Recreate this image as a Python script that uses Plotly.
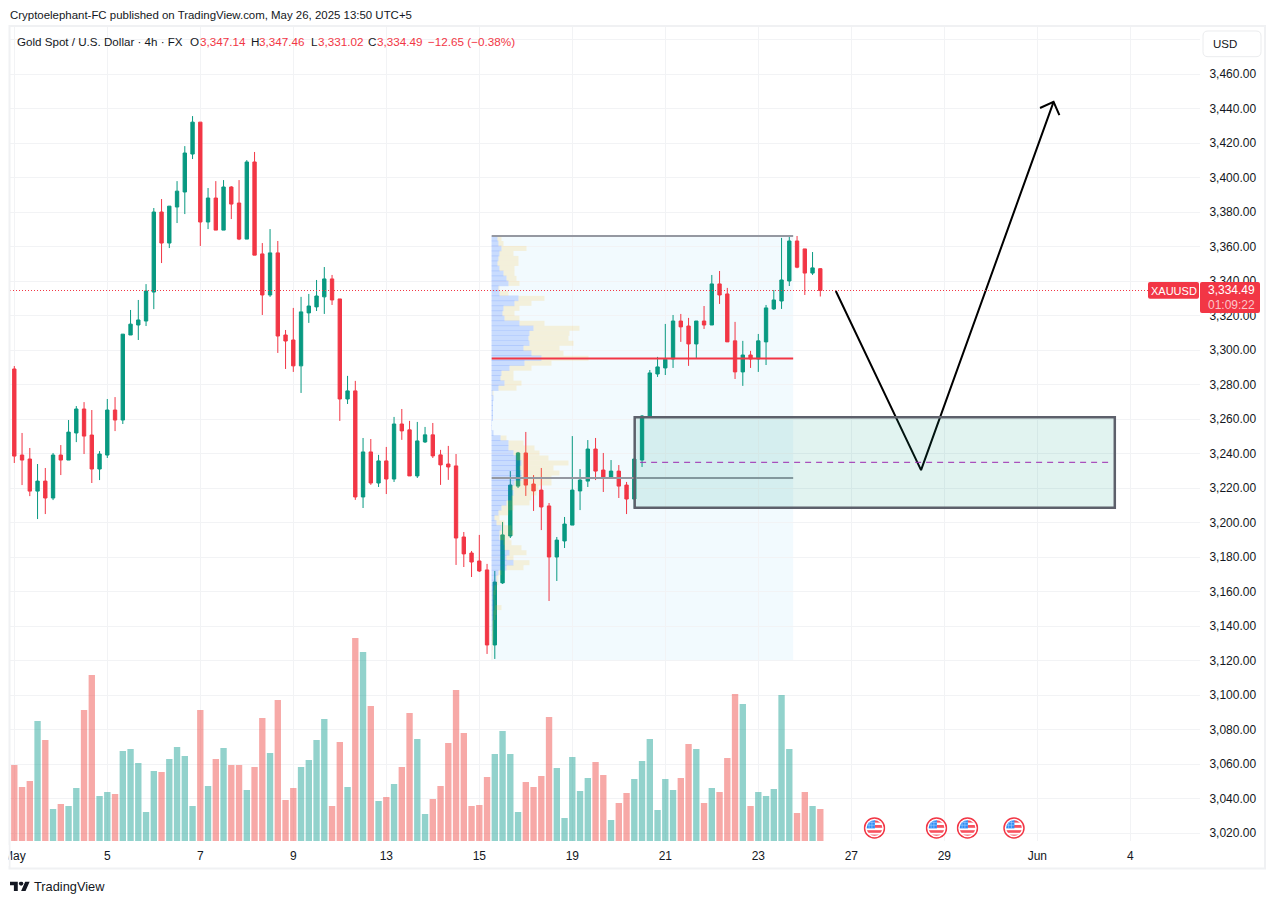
import base64
import plotly.graph_objects as go

W, H = 1275, 904
UP, DOWN = "#089981", "#F23645"
INK = "#131722"
FONT = "Liberation Sans"

highs = [3290.7,3251.9,3243.2,3233.9,3231.6,3240.3,3244.9,3259.4,3267.5,3269.8,3265.2,3241.4,3271.6,3272.7,3309.2,
 3323.2,3329.0,3338.2,3382.3,3387.5,3383.4,3397.9,3418.2,3435.6,3432.1,3393.9,3397.9,3398.5,3395.0,3398.5,
 3410.1,3414.8,3362.0,3370.1,3363.2,3311.6,3324.4,3330.8,3332.5,3340.6,3348.1,3343.5,3329.6,3285.0,3282.1,
 3249.0,3248.4,3239.2,3243.8,3261.2,3265.8,3258.9,3258.3,3255.4,3257.7,3242.1,3244.4,3239.7,3194.5,3183.5,
 3192.8,3176.0,3171.9,3200.3,3229.8,3240.9,3252.5,3227.5,3231.6,3211.3,3191.6,3203.2,3250.1,3231.0,3247.8,
 3249.0,3240.3,3236.2,3233.3,3223.5,3236.8,3262.3,3288.4,3296.0,3315.1,3320.3,3320.9,3318.6,3316.8,3325.5,
 3343.5,3345.8,3336.0,3316.3,3305.3,3299.5,3309.3,3326.1,3334.8,3365.0,3365.5,3366.1,3358.6,3356.8,3347.46]
opens = [3289.0,3239.1,3236.8,3218.2,3224.0,3214.2,3239.1,3236.2,3251.9,3265.8,3250.7,3231.0,3239.1,3265.2,3259.4,
 3308.7,3314.5,3316.8,3333.6,3380.0,3362.0,3382.9,3391.6,3413.6,3432.1,3374.2,3388.1,3369.5,3394.5,3385.2,
 3364.3,3409.0,3355.7,3331.9,3356.3,3308.7,3305.8,3290.8,3321.5,3325.0,3330.8,3341.2,3329.6,3271.6,3276.3,
 3214.8,3240.9,3222.9,3235.7,3225.2,3257.1,3253.7,3227.0,3246.7,3250.8,3239.2,3233.9,3232.8,3191.6,3182.3,
 3177.7,3172.5,3129.0,3165.0,3192.2,3221.1,3240.3,3222.3,3218.8,3209.6,3180.0,3189.3,3198.5,3218.3,3224.0,
 3242.6,3230.4,3226.4,3229.8,3221.7,3213.6,3236.2,3261.2,3286.1,3289.6,3294.8,3316.8,3313.9,3303.5,3316.8,
 3314.5,3338.3,3332.5,3305.3,3287.3,3297.1,3294.8,3304.7,3323.8,3328.4,3340.0,3363.2,3358.6,3344.6,3347.14]
closes = [3238.5,3236.2,3218.2,3224.0,3214.2,3239.1,3236.2,3252.4,3265.8,3250.1,3231.0,3239.7,3265.2,3259.4,3309.2,
 3315.0,3317.4,3334.2,3380.0,3362.0,3383.4,3392.1,3414.2,3432.1,3374.2,3388.1,3369.5,3394.5,3384.6,3364.3,
 3409.0,3355.0,3331.9,3356.3,3308.1,3305.2,3290.8,3322.1,3325.5,3331.3,3341.2,3329.0,3271.6,3276.3,3214.8,
 3240.9,3222.9,3235.7,3225.2,3257.1,3253.1,3227.0,3247.3,3250.8,3238.6,3233.4,3232.2,3191.0,3181.8,3177.1,
 3171.9,3129.0,3165.5,3192.8,3221.7,3240.3,3221.7,3218.3,3209.0,3180.0,3189.8,3199.1,3218.8,3224.6,3242.6,
 3229.8,3226.4,3229.8,3221.1,3213.6,3236.8,3261.7,3286.7,3290.2,3294.6,3316.8,3313.4,3303.5,3316.8,3314.5,
 3338.3,3331.9,3304.7,3287.3,3297.1,3294.8,3305.3,3324.4,3329.0,3340.6,3363.2,3348.0,3344.6,3347.6,3334.49]
lows = [3234.5,3221.7,3215.3,3202.0,3204.9,3213.0,3227.5,3236.2,3246.6,3239.7,3222.9,3224.6,3237.4,3253.0,3257.1,
 3308.7,3305.8,3313.9,3323.7,3350.4,3359.1,3373.6,3378.8,3410.7,3360.3,3370.1,3369.5,3369.5,3375.9,3363.7,
 3364.3,3355.0,3320.3,3330.8,3298.3,3289.0,3287.3,3275.1,3315.7,3322.6,3320.9,3326.1,3258.9,3268.7,3213.1,
 3208.4,3221.8,3220.6,3216.5,3223.5,3247.9,3227.0,3225.8,3246.1,3237.4,3221.8,3224.7,3175.4,3174.2,3168.4,
 3171.3,3123.8,3120.9,3164.4,3191.0,3220.0,3215.4,3206.7,3195.6,3154.5,3166.1,3185.2,3198.5,3207.2,3220.6,
 3224.6,3217.7,3226.4,3214.2,3204.9,3208.4,3232.2,3261.2,3284.4,3285.5,3289.6,3304.7,3290.8,3295.2,3312.2,
 3314.5,3326.7,3304.7,3283.2,3279.2,3289.6,3287.3,3291.3,3323.2,3323.8,3337.1,3347.4,3331.9,3343.5,3331.02]
volumes = [76,54,60,120,101,32,37,35,53,131,166,45,49,47,90,92,78,29,70,69,82,94,85,35,131,55,82,93,76,76,51,74,
 123,88,141,41,53,74,81,101,122,35,99,54,203,189,135,40,44,57,74,128,102,27,42,55,98,151,108,35,36,64,87,110,87,
 29,59,54,65,124,73,23,84,50,63,79,66,21,38,48,62,80,102,31,62,51,63,97,92,38,53,49,83,147,137,35,49,45,52,146,
 92,28,49,35,32]
bars = list(range(len(closes)))

# Fixed-range volume profile: up volume and total volume per price row, top row first
profile_top, profile_bottom = 3366.1, 3120.3
profile_up = [6,7,10,8,7,6,8,12,15,17,7,8,27,23,12,11,13,28,42,38,37,38,32,40,50,33,18,10,9,13,7,1,2,1.5,1.5,1.5,1.5,
 .5,.5,2,9,17,17,22,25,30,28,30,30,23,20,22,20,15,10,7,3,5,10,8,8,12,13,18,15,22,15,7,5,5,3,2,2,3,3,2,2,1,1,.5,.5,.3,.3,.2,.2]
profile_total = [10,12,35,22,27,27,23,23,25,28,8,17,53,40,28,23,28,53,88,78,77,82,68,72,97,60,40,22,22,30,25,2,2,1.5,1.5,1.5,1.5,
 .5,.5,2,15,32,43,48,57,77,62,68,60,60,47,45,40,38,22,17,8,13,20,22,18,20,30,35,22,38,32,10,7,7,5,4,3,4,10,5,4,2.5,2.5,2,2,1.5,1.5,1,1]
profile_start_bar, profile_end_bar = 61.6, 100.5
poc_price, val_price = 3295.1, 3225.8

zone_top, zone_bottom, zone_mid = 3261.0, 3208.6, 3234.9
zone_start_bar, zone_end_bar = 80.05, 142.0
path_bars = [106.0, 117.0, 134.1]
path_prices = [3334.2, 3230.4, 3443.8]
head_bars = [132.35, 134.1, 134.85]
head_prices = [3440.3, 3443.8, 3436.2]
last_price = 3334.49

price_ticks = [3020,3040,3060,3080,3100,3120,3140,3160,3180,3200,3220,3240,3260,3280,3300,3320,3340,3360,3380,3400,3420,3440,3460,3480]
price_labels = [f"{v:,.2f}" for v in price_ticks[:-1]] + [""]
date_ticks = [0,12,24,36,48,60,72,84,96,108,120,132,144]
date_labels = ["May","5","7","9","13","15","19","21","23","27","29","Jun","4"]

PX = lambda x: x / W
PY = lambda y: 1 - y / H
PANE_L, PANE_R, PANE_T, PANE_B = 10, 1200, 26, 841
bar_x = lambda px: (px - 14.3) / 7.75
price_y = lambda px: 3440 - (px - 108.5) / 1.725

fig = go.Figure()
fig.add_trace(go.Candlestick(
    x=bars, open=opens, high=highs, low=lows, close=closes, whiskerwidth=0, showlegend=False,
    increasing=dict(line=dict(color=UP, width=1), fillcolor=UP),
    decreasing=dict(line=dict(color=DOWN, width=1), fillcolor=DOWN)))
fig.add_trace(go.Bar(
    x=bars, y=volumes, yaxis="y2", width=0.82, showlegend=False, marker_line_width=0,
    marker_color=["rgba(38,166,154,.5)" if c >= o else "rgba(239,83,80,.5)" for o, c in zip(opens, closes)]))

rows = len(profile_up)
row_h = (profile_top - profile_bottom) / rows
row_prices = [profile_top - (k + .5) * row_h for k in range(rows)]
fig.add_trace(go.Bar(
    x=profile_up, y=row_prices, orientation="h", xaxis="x3", width=row_h * 1.14, showlegend=False,
    marker_color="rgba(41,98,255,.2)", marker_line_width=0))
fig.add_trace(go.Bar(
    x=[t - u for t, u in zip(profile_total, profile_up)], y=row_prices, base=profile_up, orientation="h", xaxis="x3",
    width=row_h, showlegend=False, marker_color="rgba(251,192,45,.17)", marker_line_width=0))

fig.add_trace(go.Scatter(x=path_bars, y=path_prices, mode="lines", showlegend=False,
                         line=dict(color="#000000", width=2)))
fig.add_trace(go.Scatter(x=head_bars, y=head_prices, mode="lines", showlegend=False,
                         line=dict(color="#000000", width=2)))

def rrect(x0, y0, x1, y1, r):
    def p(x, y):
        return f"{PX(x):.5f},{PY(y):.5f}"
    return (f"M{p(x0+r,y0)}L{p(x1-r,y0)}Q{p(x1,y0)} {p(x1,y0+r)}L{p(x1,y1-r)}Q{p(x1,y1)} {p(x1-r,y1)}"
            f"L{p(x0+r,y1)}Q{p(x0,y1)} {p(x0,y1-r)}L{p(x0,y0+r)}Q{p(x0,y0)} {p(x0+r,y0)}Z")

shapes = [
    dict(type="rect", xref="x", yref="y", x0=profile_start_bar, x1=profile_end_bar, y0=profile_bottom, y1=profile_top,
         fillcolor="rgba(33,170,243,.06)", line_width=0, layer="below"),
    dict(type="line", xref="paper", yref="y", x0=PX(PANE_L), x1=PX(1148), y0=last_price, y1=last_price,
         line=dict(color=DOWN, width=1, dash="1px,2px")),
    dict(type="line", xref="x", yref="y", x0=profile_start_bar, x1=profile_end_bar, y0=profile_top, y1=profile_top,
         line=dict(color="#9598A1", width=2)),
    dict(type="line", xref="x", yref="y", x0=profile_start_bar, x1=profile_end_bar, y0=poc_price, y1=poc_price,
         line=dict(color=DOWN, width=2)),
    dict(type="line", xref="x", yref="y", x0=profile_start_bar, x1=profile_end_bar, y0=val_price, y1=val_price,
         line=dict(color="#9598A1", width=2)),
    dict(type="rect", xref="x", yref="y", x0=zone_start_bar, x1=zone_end_bar, y0=zone_bottom, y1=zone_top,
         fillcolor="rgba(8,153,129,.12)", line=dict(color="#5D606B", width=2.5)),
    dict(type="line", xref="x", yref="y", x0=zone_start_bar + .7, x1=zone_end_bar - .3, y0=zone_mid, y1=zone_mid,
         line=dict(color="#9C27B0", width=1, dash="6px,5px")),
    # frame
    dict(type="rect", xref="paper", yref="paper", x0=PX(9.5), x1=PX(1265), y0=PY(868.5), y1=PY(26),
         line=dict(color="#F0F1F3", width=2), fillcolor="rgba(0,0,0,0)"),
    # clip of the first date label
    dict(type="rect", xref="paper", yref="paper", x0=0, x1=PX(8.6), y0=PY(866), y1=PY(845), fillcolor="#FFFFFF", line_width=0),
    # price and symbol labels
    dict(type="path", xref="paper", yref="paper", path=rrect(1148, 282, 1199, 298.7, 2), fillcolor=DOWN, line_width=0),
    dict(type="path", xref="paper", yref="paper", path=rrect(1200, 282, 1260, 313, 2), fillcolor=DOWN, line_width=0),
    dict(type="path", xref="paper", yref="paper", path=rrect(1203, 31, 1261, 56.7, 5), fillcolor="#FFFFFF",
         line=dict(color="#EBECEE", width=1)),
]

def text(x, y, s, color=INK, size=12, xanchor="left"):
    return dict(x=PX(x), y=PY(y), xref="paper", yref="paper", text=s, showarrow=False, xanchor=xanchor, yanchor="middle",
                font=dict(family=FONT, size=size, color=color), borderpad=0)

annotations = [
    text(9, 15, "Cryptoelephant-FC published on TradingView.com, May 26, 2025 13:50 UTC+5", size=11.45),
    text(16, 41.5, "Gold Spot / U.S. Dollar · 4h · FX", size=11.6),
    text(189, 41.5, "O", size=11.7), text(199, 41.5, "3,347.14", DOWN, 11.7),
    text(249.5, 41.5, "H", size=11.7), text(258, 41.5, "3,347.46", DOWN, 11.7),
    text(310, 41.5, "L", size=11.7), text(316.5, 41.5, "3,331.02", DOWN, 11.7),
    text(367, 41.5, "C", size=11.7), text(375.5, 41.5, "3,334.49", DOWN, 11.7),
    text(426.5, 41.5, "−12.65 (−0.38%)", DOWN, 11.7),
    text(1211.5, 44.5, "USD", size=11.5),
    text(1173.5, 290.5, "XAUUSD", "#FFFFFF", 11, "center"),
    text(1231, 290, "3,334.49", "#FFFFFF", 12, "center"),
    text(1231, 305, "01:09:22", "rgba(255,255,255,.72)", 12, "center"),
    text(33, 886, "TradingView", INK, 12.8),
]

def data_uri(svg):
    return "data:image/svg+xml;base64," + base64.b64encode(svg.encode()).decode()

flag = data_uri(
    '<svg xmlns="http://www.w3.org/2000/svg" viewBox="0 0 22 22"><defs><clipPath id="c"><circle cx="11" cy="11" r="7.8"/></clipPath></defs>'
    '<circle cx="11" cy="11" r="10" fill="#fff" stroke="#F23645" stroke-width="1.5"/>'
    '<g clip-path="url(#c)"><rect width="22" height="22" fill="#fff"/>'
    '<rect x="11" y="3" width="9" height="2.6" fill="#F7525F"/><rect x="11" y="8" width="9" height="2.8" fill="#F7525F"/>'
    '<rect x="2" y="13.2" width="18" height="2.6" fill="#F7525F"/><rect x="2" y="17.6" width="18" height="2.6" fill="#F7525F"/>'
    '<rect x="2" y="2" width="9.4" height="9.4" fill="#2F8DF5"/>'
    '<path d="M5.6 2v9.4M8.4 2v9.4M2 5.4h9.4M2 8.2h9.4" stroke="#A9D0FB" stroke-width=".6"/></g></svg>')
logo = data_uri(
    '<svg xmlns="http://www.w3.org/2000/svg" viewBox="0 4 36 18"><path fill="#131722" d="M14 22H7V11H0V4h14v18zM28 22h-8l7.5-18h8L28 22z"/>'
    '<circle cx="20" cy="8" r="4" fill="#131722"/></svg>')
images = [dict(source=flag, xref="paper", yref="paper", x=PX(c - 11), y=PY(817), sizex=22 / W, sizey=22 / H,
               sizing="stretch", xanchor="left", yanchor="top", layer="above") for c in (874.5, 936.5, 967.5, 1014)]
images.append(dict(source=logo, xref="paper", yref="paper", x=PX(10), y=PY(881.5), sizex=20 / W, sizey=9.5 / H,
                   sizing="stretch", xanchor="left", yanchor="top", layer="above"))

GRID = "#F2F3F5"
fig.update_layout(
    width=W, height=H, margin=dict(l=0, r=0, t=0, b=0, autoexpand=False), autosize=False,
    paper_bgcolor="#FFFFFF", plot_bgcolor="#FFFFFF", showlegend=False, hovermode=False,
    barmode="overlay", boxgap=0.38, font=dict(family=FONT, size=12, color=INK),
    shapes=shapes, annotations=annotations, images=images,
    xaxis=dict(domain=[PX(PANE_L), PX(PANE_R)], range=[bar_x(PANE_L), bar_x(PANE_R)], rangeslider=dict(visible=False),
               tickmode="array", tickvals=date_ticks, ticktext=date_labels, showgrid=True, gridcolor=GRID, gridwidth=1,
               zeroline=False, showline=False, ticks="outside", ticklen=4, tickcolor="rgba(0,0,0,0)",
               tickfont=dict(family=FONT, size=12, color=INK), anchor="y"),
    yaxis=dict(domain=[PY(PANE_B), PY(PANE_T)], range=[price_y(PANE_B), price_y(PANE_T)], side="right",
               tickmode="array", tickvals=price_ticks, ticktext=price_labels, showgrid=True, gridcolor=GRID, gridwidth=1,
               zeroline=False, showline=False, ticks="outside", ticklen=6, tickcolor="rgba(0,0,0,0)",
               tickfont=dict(family=FONT, size=12, color=INK), anchor="x"),
    yaxis2=dict(overlaying="y", range=[0, PANE_B - PANE_T], visible=False, anchor="x"),
    xaxis3=dict(overlaying="x", range=[PANE_L - 491.5, PANE_R - 491.5], visible=False, anchor="y"),
)
fig.write_html("out.html", config=dict(displayModeBar=False),
               post_script="document.body.style.margin='0';document.body.style.overflow='hidden';")
